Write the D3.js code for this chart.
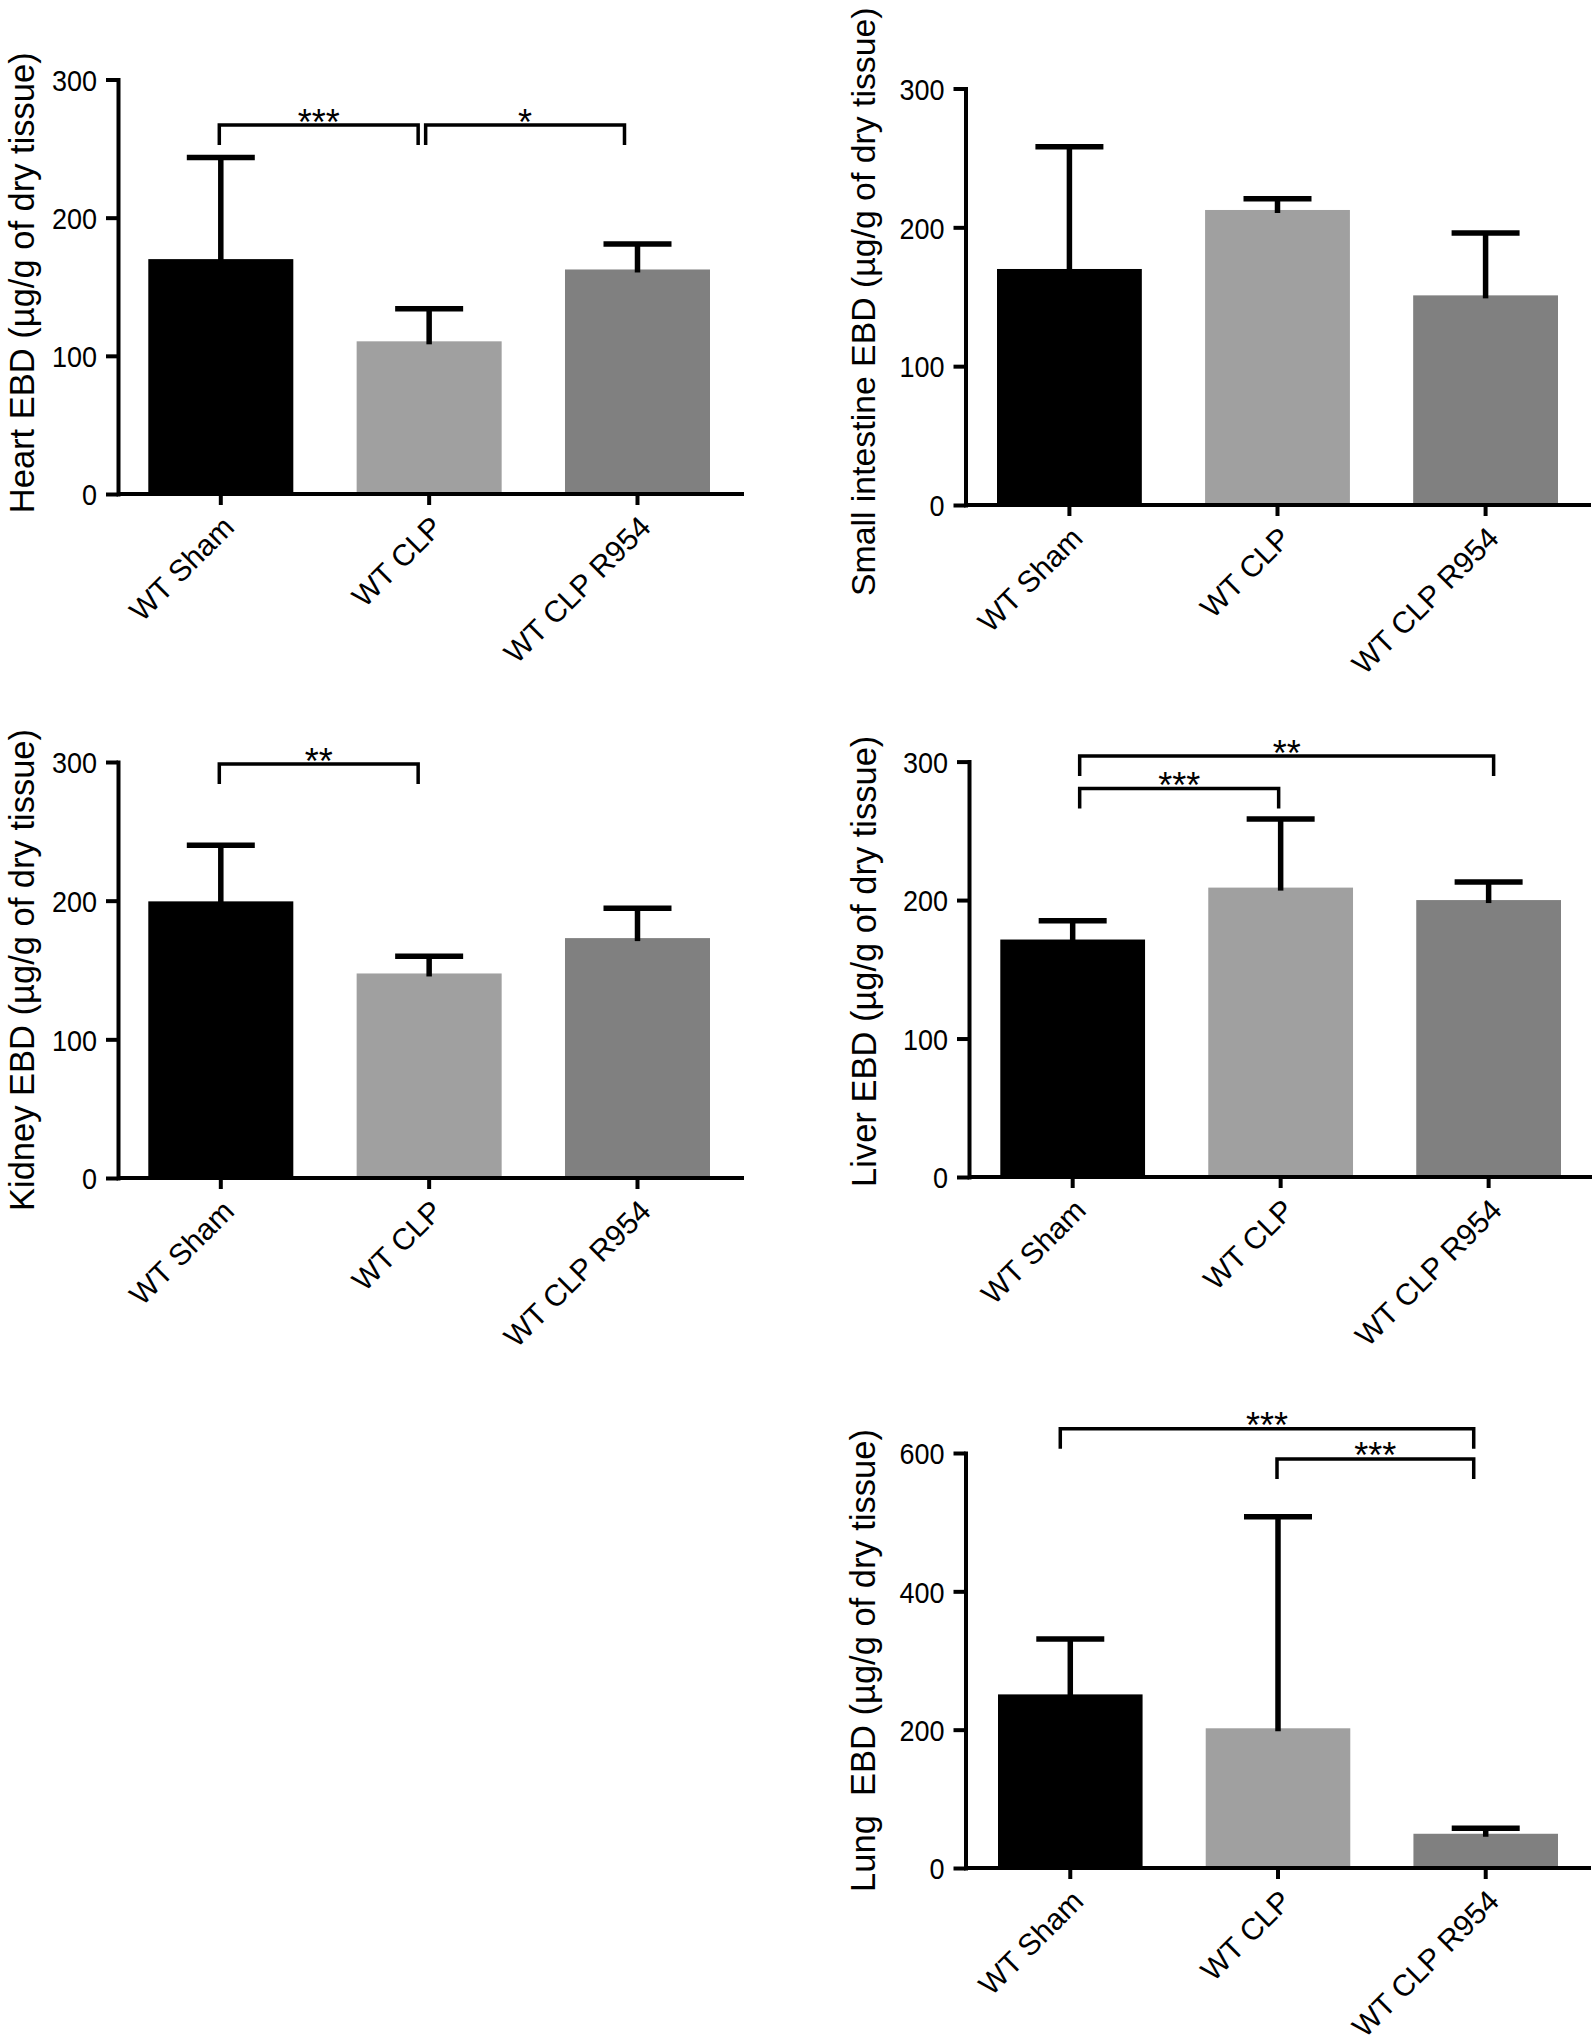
<!DOCTYPE html>
<html><head><meta charset="utf-8">
<script src="https://cdn.jsdelivr.net/npm/d3@7"></script>
<style>
html,body{margin:0;padding:0;background:#fff;}
svg{display:block;}
text{font-family:"Liberation Sans", Arial, Helvetica, sans-serif; fill:#000;}
</style></head><body>
<svg id="chart" width="1595" height="2044"></svg>
<script>
// ---------- data ----------
const groups = ["WT Sham", "WT CLP", "WT CLP R954"];
const barColors = ["#000000", "#a0a0a0", "#808080"];

const heartMean = [170, 110.5, 162.5];
const heartErr  = [73.5, 23.5, 18.5];
const intestineMean = [170, 212.5, 151];
const intestineErr  = [88, 8, 45];
const kidneyMean = [199.5, 147.5, 173];
const kidneyErr  = [40.5, 12.5, 21.5];
const liverMean = [171.5, 209, 200];
const liverErr  = [13.5, 49.5, 13];
const lungMean = [251, 202, 49.5];
const lungErr  = [80, 306, 8];

const ticks300 = [0, 100, 200, 300];
const ticks600 = [0, 200, 400, 600];

// significance brackets: [from group, to group, height (data units), label]
const heartSig = [[0, 1, 267, "***"], [1, 2, 267, "*"]];
const intestineSig = [];
const kidneySig = [[0, 1, 298.5, "**"]];
const liverSig = [[0, 2, 304, "**"], [0, 1, 280.5, "***"]];
const lungSig = [[0, 2, 635, "***"], [1, 2, 591.5, "***"]];

const heartLabel = "Heart EBD (µg/g of dry tissue)";
const intestineLabel = "Small intestine EBD (µg/g of dry tissue)";
const kidneyLabel = "Kidney EBD (µg/g of dry tissue)";
const liverLabel = "Liver EBD (µg/g of dry tissue)";
const lungLabel = "Lung  EBD (µg/g of dry tissue)";

// ---------- layout ----------
const panels = [
  {mean: heartMean, err: heartErr, ticks: ticks300, sig: heartSig, label: heartLabel,
   axisX: 118, y0: 494, yTop: 79.5, barL: 148.3, barR: 710, axisEnd: 744, labelX: 34, labelDy: -4, labelSize: 34.5,
   nudges: [[-1.5, -11], [-3.5, -13]]},
  {mean: intestineMean, err: intestineErr, ticks: ticks300, sig: intestineSig, label: intestineLabel,
   axisX: 965.5, y0: 505, yTop: 88.5, barL: 997, barR: 1558, axisEnd: 1591, labelX: 875, labelDy: 5, labelSize: 33.8,
   nudges: []},
  {mean: kidneyMean, err: kidneyErr, ticks: ticks300, sig: kidneySig, label: kidneyLabel,
   axisX: 118, y0: 1178, yTop: 762, barL: 148.3, barR: 710, axisEnd: 744, labelX: 34, labelDy: 0, labelSize: 34.5,
   nudges: [[-1.5, -11]]},
  {mean: liverMean, err: liverErr, ticks: ticks300, sig: liverSig, label: liverLabel,
   axisX: 969, y0: 1177, yTop: 761.6, barL: 1000.3, barR: 1561, axisEnd: 1592, labelX: 876, labelDy: -8, labelSize: 34.5,
   nudges: [[7, 5], [7, -2]]},
  {mean: lungMean, err: lungErr, ticks: ticks600, sig: lungSig, label: lungLabel,
   axisX: 965.5, y0: 1868, yTop: 1453, barL: 998, barR: 1558, axisEnd: 1591, labelX: 875, labelDy: 0, labelSize: 34.5,
   nudges: [[-10, -12], [-1, -12]]}
];

const svg = d3.select("#chart");
const AXIS_W = 4, ERR_W = 5.5, BR_W = 3.5, CAP_HALF = 34, LEG = 20;

panels.forEach(p => {
  const g = svg.append("g");
  const x = d3.scaleBand().domain(groups).range([p.barL, p.barR]).paddingInner(0.304).paddingOuter(0);
  const yMax = p.ticks[p.ticks.length - 1];
  const y = d3.scaleLinear().domain([0, yMax]).range([p.y0, p.yTop]);
  const cx = d => x(d) + x.bandwidth() / 2;

  // bars
  g.selectAll("rect.bar").data(groups).join("rect")
    .attr("class", "bar")
    .attr("x", d => x(d)).attr("width", x.bandwidth())
    .attr("y", (d, i) => y(p.mean[i])).attr("height", (d, i) => p.y0 - y(p.mean[i]))
    .attr("fill", (d, i) => barColors[i]);

  // error bars (upper only)
  const eb = g.selectAll("g.err").data(groups).join("g").attr("class", "err");
  eb.append("line")
    .attr("x1", d => cx(d)).attr("x2", d => cx(d))
    .attr("y1", (d, i) => y(p.mean[i]) + 3)
    .attr("y2", (d, i) => y(p.mean[i] + p.err[i]))
    .attr("stroke", "#000").attr("stroke-width", ERR_W);
  eb.append("line")
    .attr("x1", d => cx(d) - CAP_HALF).attr("x2", d => cx(d) + CAP_HALF)
    .attr("y1", (d, i) => y(p.mean[i] + p.err[i]))
    .attr("y2", (d, i) => y(p.mean[i] + p.err[i]))
    .attr("stroke", "#000").attr("stroke-width", ERR_W);

  // y axis
  const ya = g.append("g").attr("transform", `translate(${p.axisX},0)`)
    .call(d3.axisLeft(y).tickValues(p.ticks).tickSize(12).tickSizeOuter(0).tickPadding(8));
  ya.select(".domain").attr("stroke", "#000").attr("stroke-width", AXIS_W).attr("stroke-linecap", "square");
  ya.selectAll(".tick line").attr("stroke", "#000").attr("stroke-width", AXIS_W);
  const sx = 0.9;
  ya.selectAll(".tick text")
    .attr("font-size", 30).attr("fill", "#000")
    .attr("font-family", "'Liberation Sans', Arial, sans-serif")
    .attr("x", -21 / sx).attr("dy", "0.36em")
    .attr("transform", `scale(${sx},1)`);

  // x axis line
  g.append("line")
    .attr("x1", p.axisX).attr("x2", p.axisEnd)
    .attr("y1", p.y0).attr("y2", p.y0)
    .attr("stroke", "#000").attr("stroke-width", AXIS_W);

  // x axis ticks + labels
  const xa = g.append("g").attr("transform", `translate(0,${p.y0})`)
    .call(d3.axisBottom(x).tickSize(11).tickSizeOuter(0));
  xa.select(".domain").remove();
  xa.selectAll(".tick line").attr("stroke", "#000").attr("stroke-width", AXIS_W);
  xa.selectAll(".tick text")
    .attr("font-size", 30).attr("fill", "#000")
    .attr("font-family", "'Liberation Sans', Arial, sans-serif")
    .attr("text-anchor", "end")
    .attr("x", null).attr("y", null).attr("dy", null)
    .attr("transform", "translate(15,35) rotate(-45)");

  // y label
  g.append("text")
    .attr("transform", `translate(${p.labelX},${(p.y0 + p.yTop) / 2 + p.labelDy}) rotate(-90)`)
    .attr("text-anchor", "middle")
    .attr("font-size", p.labelSize)
    .style("white-space", "pre")
    .text(p.label);

  // significance brackets
  p.sig.forEach((s, k) => {
    const nd = p.nudges[k] || [0, 0];
    const x1 = cx(groups[s[0]]) + nd[0], x2 = cx(groups[s[1]]) + nd[1];
    const yb = y(s[2]);
    g.append("path")
      .attr("d", `M${x1},${yb + LEG}V${yb}H${x2}V${yb + LEG}`)
      .attr("fill", "none").attr("stroke", "#000").attr("stroke-width", BR_W);
    g.append("text")
      .attr("x", (x1 + x2) / 2).attr("y", yb + 9.5)
      .attr("text-anchor", "middle").attr("font-size", 36)
      .text(s[3]);
  });
});
</script>
</body></html>
